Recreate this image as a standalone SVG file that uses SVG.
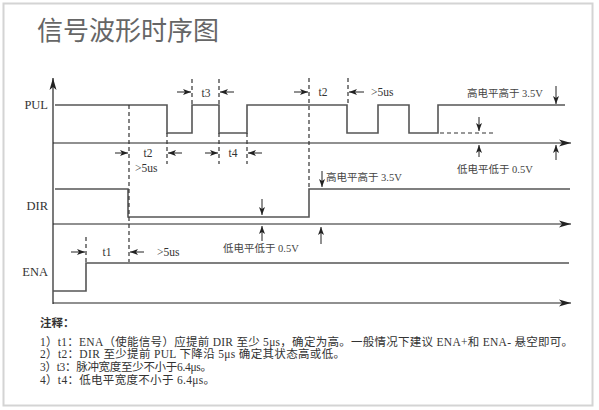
<svg xmlns="http://www.w3.org/2000/svg" width="599" height="410" viewBox="0 0 599 410">
<defs>
<marker id="ah" viewBox="0 0 8 6" refX="8" refY="3" markerWidth="8" markerHeight="6" markerUnits="userSpaceOnUse" orient="auto">
<path d="M0,0 L8,3 L0,6 L2,3 Z" fill="#222"/>
</marker>
<marker id="axh" viewBox="0 0 12 8" refX="12" refY="4" markerWidth="12" markerHeight="8" markerUnits="userSpaceOnUse" orient="auto">
<path d="M0,0.5 L12,4 L0,7.5 L3,4 Z" fill="#222"/>
</marker>
<style>
.wave{fill:none;stroke:#555;stroke-width:1.6}
.axis{fill:none;stroke:#222;stroke-width:1.2}
.dash{fill:none;stroke:#333;stroke-width:1.2;stroke-dasharray:4 3}
.ar{fill:none;stroke:#222;stroke-width:1}
.lbl{font-family:"Liberation Serif","Noto Sans CJK SC",serif;fill:#333}
.sig{font-size:12.5px}
.t{font-size:11.5px}
.v{font-size:10.5px;fill:#444}
.note{font-size:11.5px;fill:#333}
</style>
</defs>
<rect x="3.5" y="3.5" width="589" height="402" fill="#fff" stroke="#d4d4d4" stroke-width="2"/>
<text x="37" y="40" font-family="'Noto Sans CJK SC','Noto Sans',sans-serif" font-size="26" fill="#666">信号波形时序图</text>

<g id="axes">
<line class="axis" x1="53" y1="304" x2="53" y2="78" marker-end="url(#axh)"/>
<line class="axis" x1="53" y1="143" x2="571" y2="143" marker-end="url(#axh)"/>
<line class="axis" x1="53" y1="224" x2="571" y2="224" marker-end="url(#axh)"/>
<line class="axis" x1="53" y1="303" x2="571" y2="303" marker-end="url(#axh)"/>
</g>

<g id="PUL">
<text class="lbl sig" x="48" y="109" text-anchor="end">PUL</text>
<path class="wave" d="M55,105 H167 V133 H192 V105 H219 V133 H247 V105 H347 V133 H378 V105 H409 V133 H438 V105 H565"/>
<path class="dash" d="M440,133 H494"/>
</g>

<g id="DIR">
<text class="lbl sig" x="48" y="210" text-anchor="end">DIR</text>
<path class="wave" d="M55,189 H128 V217 H309 V189 H570"/>
</g>

<g id="ENA">
<text class="lbl sig" x="48" y="276" text-anchor="end">ENA</text>
<path class="wave" d="M53,291 H86 V263 H569"/>
</g>

<g id="connectors">
<path class="dash" d="M129,105 V262"/>
<path class="dash" d="M192,79 V105 M219,79 V105"/>
<path class="dash" d="M167,133 V164 M219,133 V164 M247,133 V164"/>
<path class="dash" d="M309,78 V189 M348,78 V105"/>
<path class="dash" d="M86,237 V263"/>

<line class="ar" x1="177" y1="92" x2="191" y2="92" marker-end="url(#ah)"/>
<line class="ar" x1="234" y1="92" x2="220" y2="92" marker-end="url(#ah)"/>
<line class="ar" x1="115" y1="153" x2="128" y2="153" marker-end="url(#ah)"/>
<line class="ar" x1="182" y1="153" x2="168" y2="153" marker-end="url(#ah)"/>
<line class="ar" x1="205" y1="153" x2="218" y2="153" marker-end="url(#ah)"/>
<line class="ar" x1="262" y1="153" x2="248" y2="153" marker-end="url(#ah)"/>
<line class="ar" x1="294" y1="92" x2="308" y2="92" marker-end="url(#ah)"/>
<line class="ar" x1="364" y1="92" x2="349" y2="92" marker-end="url(#ah)"/>
<line class="ar" x1="71" y1="252" x2="85" y2="252" marker-end="url(#ah)"/>
<line class="ar" x1="144" y1="252" x2="130" y2="252" marker-end="url(#ah)"/>

<line class="ar" x1="556" y1="86" x2="556" y2="104" marker-end="url(#ah)"/>
<line class="ar" x1="479" y1="117" x2="479" y2="131" marker-end="url(#ah)"/>
<line class="ar" x1="479" y1="157" x2="479" y2="145" marker-end="url(#ah)"/>
<line class="ar" x1="556" y1="160" x2="556" y2="145" marker-end="url(#ah)"/>
<line class="ar" x1="262" y1="199" x2="262" y2="215" marker-end="url(#ah)"/>
<line class="ar" x1="262" y1="241" x2="262" y2="226" marker-end="url(#ah)"/>
<line class="ar" x1="322" y1="171" x2="322" y2="187" marker-end="url(#ah)"/>
<line class="ar" x1="321" y1="244" x2="321" y2="227" marker-end="url(#ah)"/>
</g>

<g id="labels">
<text class="lbl t" x="206" y="97" text-anchor="middle">t3</text>
<text class="lbl t" x="148" y="157" text-anchor="middle">t2</text>
<text class="lbl t" x="135" y="172">&gt;5us</text>
<text class="lbl t" x="233" y="157" text-anchor="middle">t4</text>
<text class="lbl t" x="323" y="96" text-anchor="middle">t2</text>
<text class="lbl t" x="371" y="96">&gt;5us</text>
<text class="lbl t" x="107" y="256" text-anchor="middle">t1</text>
<text class="lbl t" x="157" y="256">&gt;5us</text>
<text class="lbl v" x="467" y="97">高电平高于 3.5V</text>
<text class="lbl v" x="457" y="173">低电平低于 0.5V</text>
<text class="lbl v" x="223" y="252">低电平低于 0.5V</text>
<text class="lbl v" x="326" y="181">高电平高于 3.5V</text>
</g>

<g id="notes">
<text class="lbl note" x="40" y="327" font-weight="bold" font-size="10.5">注释：</text>
<text class="lbl note" x="40" y="346" textLength="533" lengthAdjust="spacing">1）t1：ENA（使能信号）应提前 DIR 至少 5μs，确定为高。一般情况下建议 ENA+和 ENA- 悬空即可。</text>
<text class="lbl note" x="40" y="358" textLength="305" lengthAdjust="spacing">2）t2：DIR 至少提前 PUL 下降沿 5μs 确定其状态高或低。</text>
<text class="lbl note" x="40" y="371" textLength="172" lengthAdjust="spacing">3）t3：脉冲宽度至少不小于6.4μs。</text>
<text class="lbl note" x="40" y="384" textLength="175" lengthAdjust="spacing">4）t4：低电平宽度不小于 6.4μs。</text>
</g>
</svg>
